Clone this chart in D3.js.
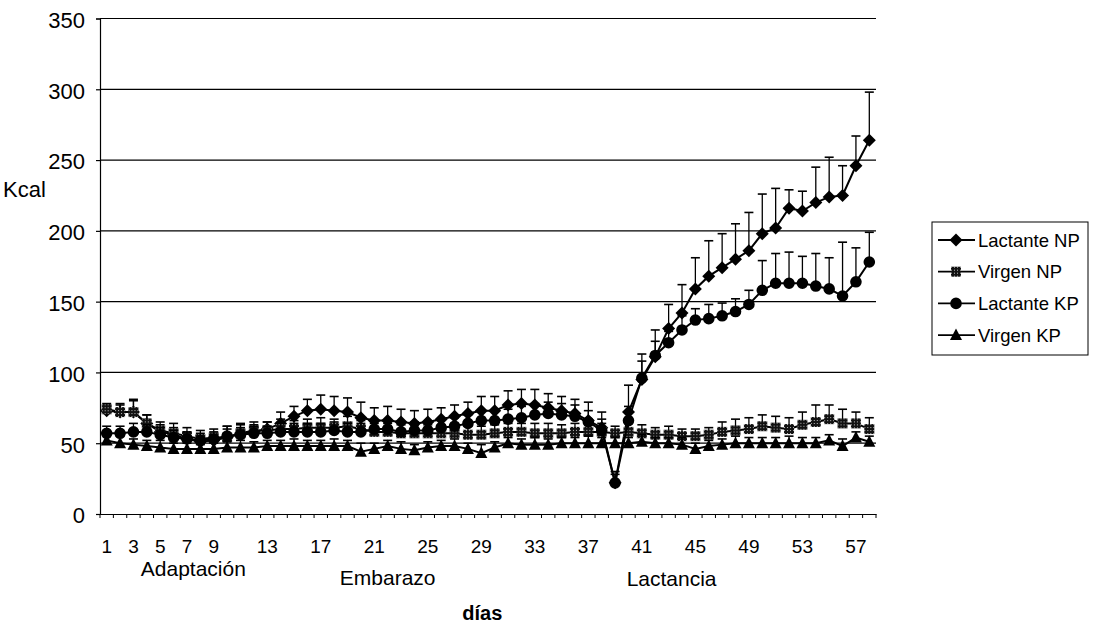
<!DOCTYPE html>
<html>
<head>
<meta charset="utf-8">
<script src="https://cdn.jsdelivr.net/npm/d3@7/dist/d3.min.js"></script>
<style>
  body { margin: 0; background: #fff; }
  text { font-family: Arial, "Liberation Sans", sans-serif; fill: #000; }
</style>
</head>
<body>
<div id="chart"></div>
<script>
// categories (days) and tick labels
var days = [1,2,3,4,5,6,7,8,9,10,11,12,13,14,15,16,17,18,19,20,21,22,23,24,25,26,27,28,29,30,
            31,32,33,34,35,36,37,38,39,40,41,42,43,44,45,46,47,48,49,50,51,52,53,54,55,56,57,58];
var tickDays = [1,3,5,7,9,13,17,21,25,29,33,37,41,45,49,53,57];
var yTicks = [0,50,100,150,200,250,300,350];

// series values (Kcal)
var lactanteNP = [73,72,72,64,58,56,53,51,52,54, 57,58,60,64,69,73,74,73,72,68,
                  66,66,65,64,65,67,69,71,73,73, 77,78,77,75,73,71,66,61,22,72,
                  95,111,131,142,159,168,174,180,186,198, 202,216,214,220,224,225,246,264];
var lactanteNPerr = [4,5,9,6,5,5,5,5,5,8, 6,5,5,8,7,8,10,10,10,11,
                     9,10,9,9,9,8,8,8,10,10, 10,10,11,10,10,10,13,11,8,19,
                     18,19,17,20,22,25,24,25,27,28, 28,13,14,25,28,21,21,34];

var virgenNP = [74,72,72,64,59,57,55,53,54,54, 57,59,59,60,60,61,61,61,62,60,
                58,58,57,57,57,57,57,56,56,57, 58,58,57,57,57,58,58,58,57,58,
                57,56,56,55,55,56,58,59,60,62, 61,60,63,65,67,64,64,60];
var virgenNPerr = [4,6,8,6,6,7,6,6,6,8, 7,6,6,7,6,6,7,6,7,6,
                   6,6,6,6,6,6,6,6,6,6, 6,6,7,7,6,6,6,6,5,6,
                   6,5,6,5,5,5,7,8,8,8, 8,8,9,12,10,10,8,8];

var lactanteKP = [57,57,58,58,56,54,53,52,53,55, 56,57,57,58,58,58,58,59,58,58,
                  60,60,58,59,59,61,62,64,66,66, 67,68,70,71,70,69,65,59,22,66,
                  96,112,121,130,137,138,140,143,148,158, 163,163,163,161,159,154,164,178];
var lactanteKPerr = [5,5,6,5,5,5,5,5,5,5, 5,5,5,6,6,6,6,6,6,6,
                     6,6,6,6,6,6,6,6,7,7, 7,8,8,8,8,8,8,8,6,10,
                     12,10,8,10,8,10,9,9,10,21, 21,22,19,23,22,38,24,21];

var virgenKP = [52,50,49,48,47,46,46,46,46,47, 47,47,48,48,48,48,48,48,48,44,
                46,48,46,45,47,48,48,46,43,47, 50,49,49,49,50,50,50,50,50,50,
                51,50,50,49,46,48,49,50,50,50, 50,50,50,50,52,48,54,51];
var virgenKPerr = [4,5,4,4,5,4,4,3,4,4, 5,4,4,4,5,4,4,5,4,6,
                   4,4,5,4,4,4,5,4,6,4, 4,4,5,4,4,4,5,4,4,4,
                   5,4,4,5,4,4,4,5,4,4, 4,5,4,4,4,5,4,4];

var seriesNames = ["Lactante NP", "Virgen NP", "Lactante KP", "Virgen KP"];
var seriesMarkers = ["diamond", "square", "circle", "triangle"];
var seriesValues = [lactanteNP, virgenNP, lactanteKP, virgenKP];
var seriesErrors = [lactanteNPerr, virgenNPerr, lactanteKPerr, virgenKPerr];

function gen_chart() {
  var W = 1097, H = 627;
  var plotLeft = 100, plotRight = 876, plotTop = 18.5, plotBottom = 514;

  var svg = d3.select("#chart").append("svg")
      .attr("width", W).attr("height", H);

  svg.append("rect").attr("width", W).attr("height", H).attr("fill", "#fff");

  var x = d3.scaleBand().domain(days).range([plotLeft, plotRight]);
  var y = d3.scaleLinear().domain([0, 350]).range([plotBottom, plotTop]);
  function xc(d) { return x(d) + x.bandwidth() / 2; }

  // gridlines
  svg.append("g").selectAll("line")
      .data(yTicks.slice(1))
    .enter().append("line")
      .attr("x1", plotLeft).attr("x2", plotRight)
      .attr("y1", function(d) { return y(d); })
      .attr("y2", function(d) { return y(d); })
      .attr("stroke", "#000").attr("stroke-width", 1.2);

  // y axis
  var yAxis = svg.append("g")
      .attr("transform", "translate(" + plotLeft + ",0)")
      .call(d3.axisLeft(y).tickValues(yTicks).tickSize(4).tickPadding(11));
  yAxis.selectAll("path, line").attr("stroke", "#000").attr("stroke-width", 1.2);
  yAxis.selectAll("text").style("font-size", "22px").attr("dy", "0.4em")
      .style("font-family", "Arial, 'Liberation Sans', sans-serif");

  svg.append("text")
      .attr("x", 3).attr("y", 197)
      .style("font-size", "22px")
      .text("Kcal");

  // x axis: labels on category centres, ticks on category boundaries
  var xAxis = svg.append("g")
      .attr("transform", "translate(0," + plotBottom + ")")
      .call(d3.axisBottom(x).tickValues(tickDays).tickSize(0).tickPadding(0));
  xAxis.select(".domain").attr("stroke", "#000").attr("stroke-width", 1.2);
  xAxis.selectAll("text").style("font-size", "19px").attr("y", 39).attr("dy", null)
      .style("font-family", "Arial, 'Liberation Sans', sans-serif");

  svg.append("g").selectAll("line")
      .data(days)
    .enter().append("line")
      .attr("x1", function(d) { return x(d); })
      .attr("x2", function(d) { return x(d); })
      .attr("y1", plotBottom).attr("y2", plotBottom + 4)
      .attr("stroke", "#000");
  svg.append("line")
      .attr("x1", plotRight).attr("x2", plotRight)
      .attr("y1", plotBottom).attr("y2", plotBottom + 4)
      .attr("stroke", "#000");

  // phase labels
  svg.append("text").attr("x", xc(8) - 7).attr("y", 576)
      .attr("text-anchor", "middle").style("font-size", "21px").text("Adaptación");
  svg.append("text").attr("x", xc(22)).attr("y", 585)
      .attr("text-anchor", "middle").style("font-size", "21px").text("Embarazo");
  svg.append("text").attr("x", xc(43) + 3).attr("y", 586)
      .attr("text-anchor", "middle").style("font-size", "21px").text("Lactancia");
  svg.append("text").attr("x", xc(29) + 1).attr("y", 620)
      .attr("text-anchor", "middle").style("font-size", "20px").style("font-weight", "bold")
      .text("días");

  // markers
  function markerPath(type) {
    if (type == "diamond") return "M0,-6.5L6.5,0L0,6.5L-6.5,0Z";
    if (type == "square") return "M-5,-5H5V5H-5Z";
    if (type == "triangle") return "M0,-6.5L6,5H-6Z";
    return "M5.8,0A5.8,5.8 0 1,1 -5.8,0A5.8,5.8 0 1,1 5.8,0Z";
  }

  var defs = svg.append("defs");
  var pat = defs.append("pattern").attr("id", "speck")
      .attr("width", 3).attr("height", 3).attr("patternUnits", "userSpaceOnUse");
  pat.append("rect").attr("width", 3).attr("height", 3).attr("fill", "#111");
  pat.append("rect").attr("x", 1).attr("y", 1).attr("width", 1).attr("height", 1).attr("fill", "#bbb");

  var line = d3.line()
      .x(function(d) { return xc(d.day); })
      .y(function(d) { return y(d.v); });

  seriesValues.forEach(function(vals, s) {
    var pts = days.map(function(d, i) {
      return {day: d, v: vals[i], e: seriesErrors[s][i]};
    });
    var g = svg.append("g").attr("class", "series" + s);

    // error bars (positive side only)
    var eb = g.selectAll(".err").data(pts).enter().append("g");
    eb.append("line")
        .attr("x1", function(d) { return xc(d.day); })
        .attr("x2", function(d) { return xc(d.day); })
        .attr("y1", function(d) { return y(d.v); })
        .attr("y2", function(d) { return y(d.v + d.e); })
        .attr("stroke", "#000").attr("stroke-width", 1.3);
    eb.append("line")
        .attr("x1", function(d) { return xc(d.day) - 4.5; })
        .attr("x2", function(d) { return xc(d.day) + 4.5; })
        .attr("y1", function(d) { return y(d.v + d.e); })
        .attr("y2", function(d) { return y(d.v + d.e); })
        .attr("stroke", "#000").attr("stroke-width", 1.6);

    g.append("path")
        .datum(pts)
        .attr("fill", "none")
        .attr("stroke", "#000")
        .attr("stroke-width", 2)
        .attr("d", line);

    g.selectAll(".mk").data(pts).enter().append("path")
        .attr("transform", function(d) { return "translate(" + xc(d.day) + "," + y(d.v) + ")"; })
        .attr("d", markerPath(seriesMarkers[s]))
        .attr("fill", seriesMarkers[s] == "square" ? "url(#speck)" : "#000");
  });

  // legend
  var lg = svg.append("g");
  lg.append("rect")
      .attr("x", 932).attr("y", 222).attr("width", 156).attr("height", 133)
      .attr("fill", "#fff").attr("stroke", "#000").attr("stroke-width", 1);

  seriesNames.forEach(function(name, i) {
    var ly = 240 + i * 31.7;
    lg.append("line").attr("x1", 938).attr("x2", 975).attr("y1", ly).attr("y2", ly)
        .attr("stroke", "#000").attr("stroke-width", 1.8);
    lg.append("path")
        .attr("transform", "translate(956," + ly + ")")
        .attr("d", markerPath(seriesMarkers[i]))
        .attr("fill", seriesMarkers[i] == "square" ? "url(#speck)" : "#000");
    lg.append("text")
        .attr("x", 978).attr("y", ly).attr("dy", "0.36em")
        .style("font-size", "18.5px")
        .text(name);
  });
}

gen_chart();
</script>
</body>
</html>
